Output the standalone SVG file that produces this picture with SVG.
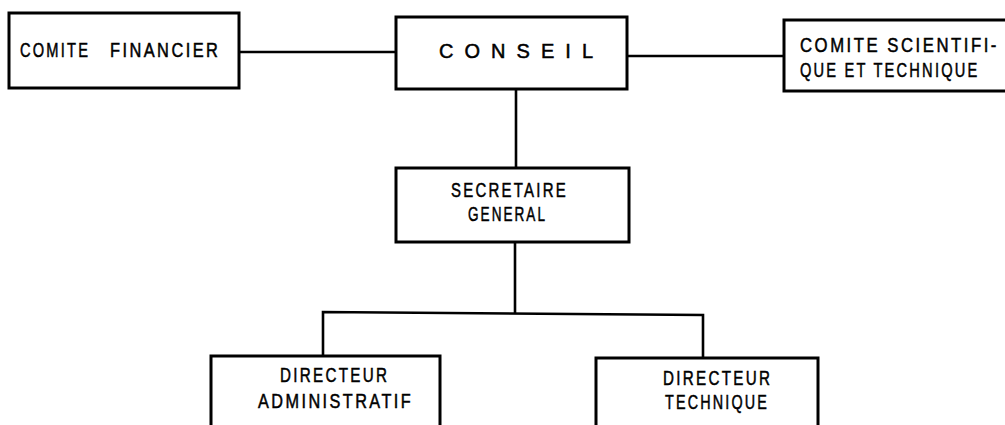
<svg xmlns="http://www.w3.org/2000/svg" width="1005" height="425" viewBox="0 0 1005 425">
  <style>
    .box { fill: #fff; stroke: #000; stroke-width: 3; }
    .wire { fill: none; stroke: #000; stroke-width: 2.6; stroke-linejoin: miter; }
    .lbl { font-family: "Liberation Sans", "DejaVu Sans", sans-serif; font-size: 20px; letter-spacing: 3px; fill: #000; stroke: #000; stroke-width: 0.5; }
    .wide { letter-spacing: 0; }
  </style>
  <rect width="1005" height="425" fill="#fff"/>

  <!-- connectors -->
  <g id="connectors">
    <path class="wire" d="M239 52 H396"/>
    <path class="wire" d="M627 56 H784"/>
    <path class="wire" d="M516 89 V168"/>
    <path class="wire" d="M515 242 V313"/>
    <path class="wire" d="M323 356 V312 L703 315 V358"/>
  </g>

  <!-- lettering is horizontally condensed with scale(sx,1) -->
  <g id="comite-financier">
    <rect class="box" x="9" y="13" width="230" height="75"/>
    <text class="lbl" transform="translate(20 57) scale(0.733 1)">COMITE</text>
    <text class="lbl" transform="translate(110 57) scale(0.819 1)">FINANCIER</text>
  </g>

  <g id="conseil">
    <rect class="box" x="396" y="17" width="231" height="72"/>
    <text class="lbl wide" x="439" y="58" textLength="154" lengthAdjust="spacing">CONSEIL</text>
  </g>

  <g id="comite-scientifique">
    <rect class="box" x="784" y="20" width="230" height="71"/>
    <text class="lbl" transform="translate(800 52) scale(0.837 1)">COMITE SCIENTIFI-</text>
    <text class="lbl" transform="translate(800 77) scale(0.733 1)">QUE ET TECHNIQUE</text>
  </g>

  <g id="secretaire-general">
    <rect class="box" x="396" y="168" width="233" height="74"/>
    <text class="lbl" transform="translate(451 197) scale(0.749 1)">SECRETAIRE</text>
    <text class="lbl" transform="translate(468 221) scale(0.678 1)">GENERAL</text>
  </g>

  <g id="directeur-administratif">
    <rect class="box" x="211" y="356" width="229" height="80"/>
    <text class="lbl" transform="translate(280 382) scale(0.760 1)">DIRECTEUR</text>
    <text class="lbl" transform="translate(258 408) scale(0.813 1)">ADMINISTRATIF</text>
  </g>

  <g id="directeur-technique">
    <rect class="box" x="596" y="358" width="222" height="78"/>
    <text class="lbl" transform="translate(663 385) scale(0.760 1)">DIRECTEUR</text>
    <text class="lbl" transform="translate(665 409) scale(0.719 1)">TECHNIQUE</text>
  </g>
</svg>
